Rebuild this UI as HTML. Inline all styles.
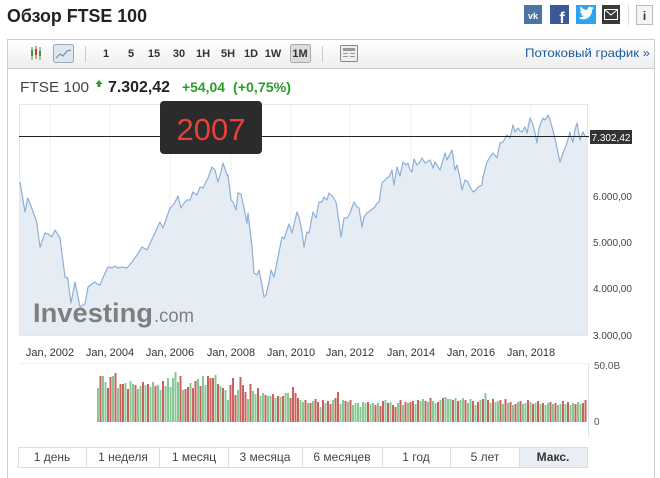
<!DOCTYPE html>
<html><head><meta charset="utf-8"><style>
html,body{margin:0;padding:0;background:#fff;width:660px;height:478px;overflow:hidden}
svg{position:absolute;left:0;top:0;font-family:"Liberation Sans","Noto Sans CJK SC",sans-serif}
</style></head><body>
<svg width="660" height="478" viewBox="0 0 660 478">
<defs><linearGradient id="tb" x1="0" y1="0" x2="0" y2="1"><stop offset="0" stop-color="#ffffff"/><stop offset="1" stop-color="#eeeeee"/></linearGradient></defs>
<!-- title -->
<text x="7" y="22" font-size="18" font-weight="bold" fill="#222" textLength="140" lengthAdjust="spacingAndGlyphs">Обзор FTSE 100</text>
<!-- social -->
<rect x="524" y="5" width="18" height="19" fill="#4c75a3"/><text x="533" y="19" font-size="9" font-weight="bold" fill="#fff" text-anchor="middle">vk</text>
<rect x="550" y="5" width="19" height="19" fill="#3b5998"/><text x="562" y="23" font-size="16" font-weight="bold" fill="#fff" text-anchor="middle">f</text>
<rect x="576" y="5" width="20" height="19" fill="#2ba5ef"/><path d="M579 18c3 2 8 2 11-2 1.5-2 2-4 2-6l2-2-2 .5 1.5-2-2 1c-1.5-1.5-4.5-.5-4 2.5-3 0-5-1.5-7-3.5-1 2 0 3.5 1 4.5h-1.5c0 1.5 1 2.5 2.5 3h-1.5c.5 1.5 1.5 2 3 2-1.5 1-3 1.5-5 1.5z" fill="#fff"/>
<rect x="602" y="5" width="18" height="19" fill="#3a3a3a"/><rect x="604.5" y="9.5" width="13" height="10" fill="none" stroke="#fff"/><polyline points="604.5,9.5 611,15 617.5,9.5" fill="none" stroke="#fff"/>
<line x1="628.5" y1="5" x2="628.5" y2="25" stroke="#ddd"/>
<rect x="636.5" y="5.5" width="16" height="19" fill="#f5f5f5" stroke="#bbb"/><text x="644.5" y="20" font-size="12" font-weight="bold" fill="#333" text-anchor="middle">i</text>
<!-- panel -->
<rect x="7.5" y="39.5" width="647" height="460" fill="none" stroke="#cfcfcf"/>
<rect x="8" y="40" width="646" height="28" fill="url(#tb)"/>
<line x1="8" y1="68.5" x2="654" y2="68.5" stroke="#cfcfcf"/>
<!-- candle icon -->
<line x1="32" y1="47" x2="32" y2="60" stroke="#3a9a3a"/><rect x="31" y="50" width="2" height="6" fill="#3a9a3a"/>
<line x1="36" y1="46" x2="36" y2="59" stroke="#cc3333"/><rect x="35" y="49" width="2" height="6" fill="#cc3333"/>
<line x1="40" y1="47" x2="40" y2="60" stroke="#3a9a3a"/><rect x="39" y="51" width="2" height="5" fill="#3a9a3a"/>
<rect x="53.5" y="44.5" width="20" height="18" rx="2" fill="#dfe6ee" stroke="#9aa8b8"/>
<polyline points="56,58 60,54 63,56 67,51 71,50" fill="none" stroke="#6c8fb8" stroke-width="1.2"/>
<line x1="85.5" y1="46" x2="85.5" y2="62" stroke="#ccc"/>
<rect x="290.5" y="44.5" width="20" height="18" rx="2" fill="#dcdcdc" stroke="#aaa"/>
<g font-size="11" font-weight="bold" fill="#333" text-anchor="middle">
<text x="106" y="57">1</text><text x="131" y="57">5</text><text x="154" y="57">15</text><text x="179" y="57">30</text><text x="203" y="57">1H</text><text x="228" y="57">5H</text><text x="251" y="57">1D</text><text x="273" y="57">1W</text><text x="300" y="57">1M</text>
</g>
<line x1="322.5" y1="46" x2="322.5" y2="62" stroke="#ccc"/>
<rect x="340.5" y="45.5" width="17" height="16" rx="1" fill="#eee" stroke="#888"/>
<rect x="343" y="48" width="12" height="3" fill="#999"/><line x1="343" y1="53.5" x2="348" y2="53.5" stroke="#999"/><line x1="343" y1="56.5" x2="348" y2="56.5" stroke="#999"/><line x1="350" y1="53.5" x2="355" y2="53.5" stroke="#999"/><line x1="350" y1="56.5" x2="355" y2="56.5" stroke="#999"/>
<text x="525" y="57" font-size="12" fill="#1c5a9c" textLength="125" lengthAdjust="spacingAndGlyphs">Потоковый график »</text>
<!-- price row -->
<text x="20" y="92" font-size="15" fill="#444" textLength="69" lengthAdjust="spacingAndGlyphs">FTSE 100</text>
<path d="M99 80l3.5 4h-2v3h-3v-3h-2z" fill="#2a9d2a"/>
<text x="108" y="92" font-size="16" font-weight="bold" fill="#222" textLength="62" lengthAdjust="spacingAndGlyphs">7.302,42</text>
<text x="182" y="92" font-size="14" font-weight="bold" fill="#2a9d2a" textLength="43" lengthAdjust="spacingAndGlyphs">+54,04</text>
<text x="233" y="92" font-size="14" font-weight="bold" fill="#2a9d2a" textLength="58" lengthAdjust="spacingAndGlyphs">(+0,75%)</text>
<!-- plot -->
<rect x="19.5" y="104.5" width="568" height="231" fill="#fff" stroke="#e6e6e6"/>
<g stroke="#f1f1f1"><line x1="50" y1="105" x2="50" y2="335"/><line x1="110" y1="105" x2="110" y2="335"/><line x1="170" y1="105" x2="170" y2="335"/><line x1="231" y1="105" x2="231" y2="335"/><line x1="291" y1="105" x2="291" y2="335"/><line x1="350" y1="105" x2="350" y2="335"/><line x1="411" y1="105" x2="411" y2="335"/><line x1="471" y1="105" x2="471" y2="335"/><line x1="531" y1="105" x2="531" y2="335"/></g>
<path fill="#e5ecf4" d="M20,182 L25,212 L27.7,198 L31,206 L36.7,222 L40,247 L45,233 L48,234 L51.7,237 L55,230 L60,238 L65,277 L67.7,278 L71,303 L75,282 L80,307 L83,305 L85,304 L88,287 L92,284 L95,282 L97,284 L100,285 L105,273 L108,267 L112,268 L115,266 L118,268 L122,267 L127,268 L132,262 L137,255 L142,247 L147,250 L153,237 L160,222 L163,228 L170,208 L174,204 L178,196 L181,208 L184,203 L187,200 L190,200 L193,192 L197,195 L200,187 L203,188 L208,178 L212,167 L215,170 L218,182 L221,172 L223,163 L227,175 L228,175 L231,200 L233,202 L236,210 L238,193 L241,194 L244,208 L247,223 L248,213 L250,230 L252,247 L254,273 L257,275 L259,270 L262,285 L264,297 L266,295 L269,282 L271,270 L274,277 L278,257 L282,237 L284,239 L287,230 L289,224 L292,233 L297,212 L299,217 L302,232 L304,247 L307,232 L309,233 L313,212 L316,218 L319,202 L322,202 L324,197 L327,200 L329,193 L333,197 L336,202 L338,215 L341,237 L344,218 L347,218 L350,213 L354,202 L357,207 L359,208 L362,227 L364,217 L367,213 L370,211 L375,207 L377,203 L379,202 L382,183 L385,180 L387,178 L389,177 L392,170 L394,185 L397,167 L400,176 L403,162 L406,165 L408,163 L410,170 L412,172 L414,159 L417,165 L420,162 L422,158 L425,163 L427,162 L430,160 L433,168 L435,162 L437,165 L440,170 L443,160 L445,153 L447,160 L451,152 L452,150 L455,170 L457,165 L460,178 L462,190 L465,180 L468,182 L470,187 L473,192 L476,190 L478,187 L482,185 L483,177 L487,162 L490,157 L493,153 L497,158 L500,143 L503,142 L507,135 L510,138 L513,125 L515,132 L518,128 L520,131 L522,132 L525,127 L527,133 L530,118 L533,125 L535,133 L537,143 L539,128 L541,123 L543,118 L545,120 L547,117 L548,115 L550,120 L552,127 L554,135 L556,143 L558,153 L560,162 L563,153 L565,148 L567,143 L570,132 L571,137 L573,142 L575,130 L577,123 L580,140 L583,132 L585,136 L587,137 L587,335 L20,335 Z"/>
<path fill="none" stroke="#8db0d6" stroke-width="1.2" stroke-linejoin="round" d="M20,182 L25,212 L27.7,198 L31,206 L36.7,222 L40,247 L45,233 L48,234 L51.7,237 L55,230 L60,238 L65,277 L67.7,278 L71,303 L75,282 L80,307 L83,305 L85,304 L88,287 L92,284 L95,282 L97,284 L100,285 L105,273 L108,267 L112,268 L115,266 L118,268 L122,267 L127,268 L132,262 L137,255 L142,247 L147,250 L153,237 L160,222 L163,228 L170,208 L174,204 L178,196 L181,208 L184,203 L187,200 L190,200 L193,192 L197,195 L200,187 L203,188 L208,178 L212,167 L215,170 L218,182 L221,172 L223,163 L227,175 L228,175 L231,200 L233,202 L236,210 L238,193 L241,194 L244,208 L247,223 L248,213 L250,230 L252,247 L254,273 L257,275 L259,270 L262,285 L264,297 L266,295 L269,282 L271,270 L274,277 L278,257 L282,237 L284,239 L287,230 L289,224 L292,233 L297,212 L299,217 L302,232 L304,247 L307,232 L309,233 L313,212 L316,218 L319,202 L322,202 L324,197 L327,200 L329,193 L333,197 L336,202 L338,215 L341,237 L344,218 L347,218 L350,213 L354,202 L357,207 L359,208 L362,227 L364,217 L367,213 L370,211 L375,207 L377,203 L379,202 L382,183 L385,180 L387,178 L389,177 L392,170 L394,185 L397,167 L400,176 L403,162 L406,165 L408,163 L410,170 L412,172 L414,159 L417,165 L420,162 L422,158 L425,163 L427,162 L430,160 L433,168 L435,162 L437,165 L440,170 L443,160 L445,153 L447,160 L451,152 L452,150 L455,170 L457,165 L460,178 L462,190 L465,180 L468,182 L470,187 L473,192 L476,190 L478,187 L482,185 L483,177 L487,162 L490,157 L493,153 L497,158 L500,143 L503,142 L507,135 L510,138 L513,125 L515,132 L518,128 L520,131 L522,132 L525,127 L527,133 L530,118 L533,125 L535,133 L537,143 L539,128 L541,123 L543,118 L545,120 L547,117 L548,115 L550,120 L552,127 L554,135 L556,143 L558,153 L560,162 L563,153 L565,148 L567,143 L570,132 L571,137 L573,142 L575,130 L577,123 L580,140 L583,132 L585,136 L587,137"/>
<!-- watermark -->
<text x="33" y="322" font-size="27" font-weight="bold" fill="#7f7f7f" textLength="120" lengthAdjust="spacingAndGlyphs">Investing</text>
<text x="154" y="322" font-size="19" fill="#7f7f7f" textLength="40" lengthAdjust="spacingAndGlyphs">.com</text>
<!-- current price line -->
<line x1="19" y1="136.5" x2="589" y2="136.5" stroke="#222"/>
<rect x="590" y="130" width="42" height="14" fill="#333"/>
<text x="611" y="141" font-size="10" fill="#fff" text-anchor="middle">7.302,42</text>
<!-- tooltip -->
<rect x="160" y="101" width="102" height="53" rx="4" fill="#2b2b2b"/>
<text x="211" y="140" font-size="31" fill="#e8403a" text-anchor="middle" textLength="69" lengthAdjust="spacingAndGlyphs">2007</text>
<!-- y labels -->
<g font-size="10" fill="#444">
<text x="593" y="200">6.000,00</text><text x="593" y="246">5.000,00</text><text x="593" y="292">4.000,00</text><text x="593" y="339">3.000,00</text>
</g>
<!-- x labels -->
<g font-size="11" fill="#333" text-anchor="middle">
<text x="50" y="356">Jan, 2002</text><text x="110" y="356">Jan, 2004</text><text x="170" y="356">Jan, 2006</text><text x="231" y="356">Jan, 2008</text><text x="291" y="356">Jan, 2010</text><text x="350" y="356">Jan, 2012</text><text x="411" y="356">Jan, 2014</text><text x="471" y="356">Jan, 2016</text><text x="531" y="356">Jan, 2018</text>
</g>
<!-- volume pane -->
<line x1="19" y1="363.5" x2="588" y2="363.5" stroke="#f0f0f0"/>
<line x1="588.5" y1="363" x2="588.5" y2="437" stroke="#dde3ea"/>
<text x="594" y="369" font-size="10" fill="#555">50.0B</text>
<text x="594" y="425" font-size="10" fill="#555">0</text>
<path stroke="#86c894" stroke-width="2" fill="none" d="M98 388V422M103 376V422M105.5 382V422M113 376V422M118 388V422M125.5 383V422M130.5 381V422M133 384V422M138 389V422M140.5 386V422M145.5 385V422M150.5 387V422M153 382V422M158 385V422M160.5 390V422M165.5 386V422M168 378V422M170.5 387V422M173 378V422M175.5 372V422M178 382V422M183 390V422M190.5 383V422M198 379V422M203 376V422M205.5 385V422M215.5 375V422M220.5 386V422M225.5 390V422M228 400V422M238 390V422M248 399V422M253 391V422M255.5 394V422M260.5 396V422M263 393V422M268 396V422M270.5 396V422M275.5 398V422M280.5 397V422M285.5 393V422M288 393V422M300.5 400V422M303 402V422M308 403V422M313 401V422M320.5 407V422M325.5 403V422M333 400V422M340.5 404V422M343 400V422M348 402V422M353 405V422M355.5 403V422M358 403V422M360.5 407V422M363 402V422M365.5 403V422M370.5 404V422M373 403V422M378 403V422M385.5 400V422M390.5 402V422M398 403V422M403 405V422M408 403V422M415.5 404V422M420.5 401V422M423 399V422M428 402V422M433 401V422M435.5 403V422M440.5 400V422M445.5 397V422M448 399V422M450.5 399V422M455.5 398V422M460.5 400V422M463 398V422M468 403V422M470.5 399V422M475.5 405V422M480.5 400V422M485.5 393V422M490.5 403V422M495.5 402V422M498 401V422M503 404V422M508 403V422M513 405V422M518 402V422M523 404V422M525.5 403V422M530.5 402V422M535.5 403V422M540.5 404V422M545.5 405V422M548 403V422M553 404V422M558 405V422M560.5 404V422M565.5 404V422M570.5 405V422M573 403V422M578 402V422M580.5 404V422"/>
<path stroke="#c8625e" stroke-width="2" fill="none" d="M100.5 376V422M108 388V422M110.5 377V422M115.5 373V422M120.5 384V422M123 384V422M128 389V422M135.5 385V422M143 382V422M148 384V422M155.5 386V422M163 381V422M180.5 376V422M185.5 389V422M188 387V422M193 388V422M195.5 381V422M200.5 386V422M208 376V422M210.5 378V422M213 378V422M218 384V422M223 388V422M230.5 385V422M233 378V422M235.5 395V422M240.5 377V422M243 385V422M245.5 392V422M250.5 384V422M258 388V422M265.5 395V422M273 394V422M278 396V422M283 396V422M290.5 398V422M293 387V422M295.5 393V422M298 398V422M305.5 400V422M310.5 403V422M315.5 399V422M318 402V422M323 400V422M328 401V422M330.5 404V422M335.5 398V422M338 392V422M345.5 401V422M350.5 400V422M368 402V422M375.5 405V422M380.5 406V422M383 401V422M388 403V422M393 405V422M395.5 407V422M400.5 400V422M405.5 402V422M410.5 402V422M413 401V422M418 400V422M425.5 401V422M430.5 398V422M438 402V422M443 398V422M453 400V422M458 401V422M465.5 400V422M473 401V422M478 402V422M483 399V422M488 400V422M493 399V422M500.5 400V422M505.5 399V422M510.5 402V422M515.5 404V422M520.5 401V422M528 400V422M533 404V422M538 401V422M543 403V422M550.5 402V422M555.5 403V422M563 401V422M568 402V422M575.5 404V422M583 403V422M585.5 400V422"/>
<!-- bottom nav -->
<rect x="519" y="447" width="69" height="20" fill="#e8eef4"/>
<rect x="18.5" y="447.5" width="569" height="20" fill="none" stroke="#ddd"/>
<g stroke="#ddd"><line x1="86.5" y1="447" x2="86.5" y2="467"/><line x1="159.5" y1="447" x2="159.5" y2="467"/><line x1="228.5" y1="447" x2="228.5" y2="467"/><line x1="302.5" y1="447" x2="302.5" y2="467"/><line x1="382.5" y1="447" x2="382.5" y2="467"/><line x1="450.5" y1="447" x2="450.5" y2="467"/><line x1="519.5" y1="447" x2="519.5" y2="467"/></g>
<g font-size="12" fill="#444" text-anchor="middle">
<text x="52" y="461">1 день</text><text x="123" y="461">1 неделя</text><text x="194" y="461">1 месяц</text><text x="265" y="461">3 месяца</text><text x="342" y="461">6 месяцев</text><text x="416" y="461">1 год</text><text x="485" y="461">5 лет</text><text x="553" y="461" font-weight="bold" fill="#333">Макс.</text>
</g>
</svg>
</body></html>
